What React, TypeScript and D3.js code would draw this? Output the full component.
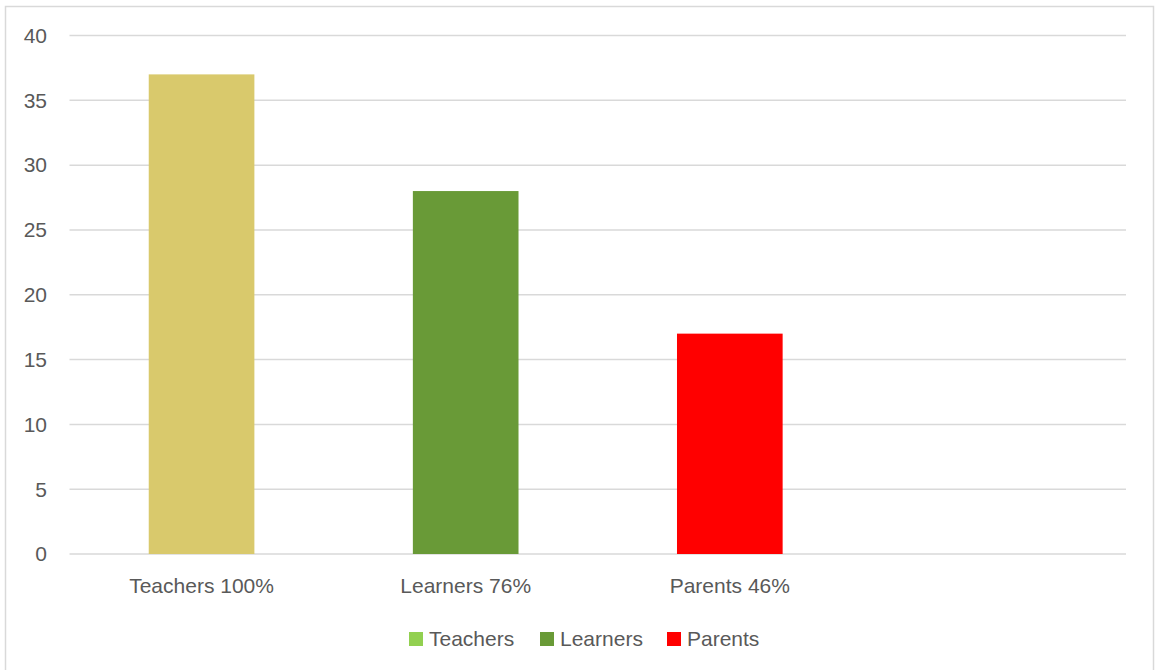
import React from "react";
import * as d3 from "d3";

const categories = ["Teachers 100%", "Learners 76%", "Parents 46%", ""];
const values = [37, 28, 17, null];
const barColors = ["#D9C96C", "#699A37", "#FF0000"];
const legendLabels = ["Teachers", "Learners", "Parents"];
const legendColors = ["#92D050", "#699A37", "#FF0000"];
const yTicks = [0, 5, 10, 15, 20, 25, 30, 35, 40];

const W = 1155;
const H = 670;
const FONT = "'Liberation Sans', Arial, sans-serif";

export default function App() {
  const x = d3.scaleBand<string>().domain(categories.map((c, i) => String(i))).range([69.5, 1126]).padding(0);
  const y = d3.scaleLinear().domain([0, 40]).range([554, 35.5]);
  const barW = x.bandwidth() * 0.4;

  const legendX = [409, 540, 667];

  return (
    <svg width={W} height={H} style={{ position: "absolute", left: 0, top: 0 }}>
      <rect x={0} y={0} width={W} height={H} fill="#fff" />
      <rect x={5.5} y={6.5} width={1148} height={680} fill="none" stroke="#D9D9D9" strokeWidth={1.5} />
      {yTicks.map((t) => (
        <g key={t}>
          <line x1={69.5} x2={1126} y1={y(t)} y2={y(t)} stroke="#D9D9D9" strokeWidth={1.5} />
          <text x={47} y={y(t)} dy="0.35em" textAnchor="end" fontFamily={FONT} fontSize={21} fill="#595959">
            {t}
          </text>
        </g>
      ))}
      {values.map((v, i) =>
        v == null ? null : (
          <rect
            key={i}
            x={(x(String(i)) as number) + (x.bandwidth() - barW) / 2}
            y={y(v)}
            width={barW}
            height={y(0) - y(v)}
            fill={barColors[i]}
          />
        )
      )}
      {categories.map((c, i) => (
        <text
          key={i}
          x={(x(String(i)) as number) + x.bandwidth() / 2}
          y={593}
          textAnchor="middle"
          fontFamily={FONT}
          fontSize={21}
          fill="#595959"
        >
          {c}
        </text>
      ))}
      {legendLabels.map((l, i) => (
        <g key={l}>
          <rect x={legendX[i]} y={632} width={14} height={14} fill={legendColors[i]} />
          <text x={legendX[i] + 20} y={646} fontFamily={FONT} fontSize={21} fill="#595959">
            {l}
          </text>
        </g>
      ))}
    </svg>
  );
}
